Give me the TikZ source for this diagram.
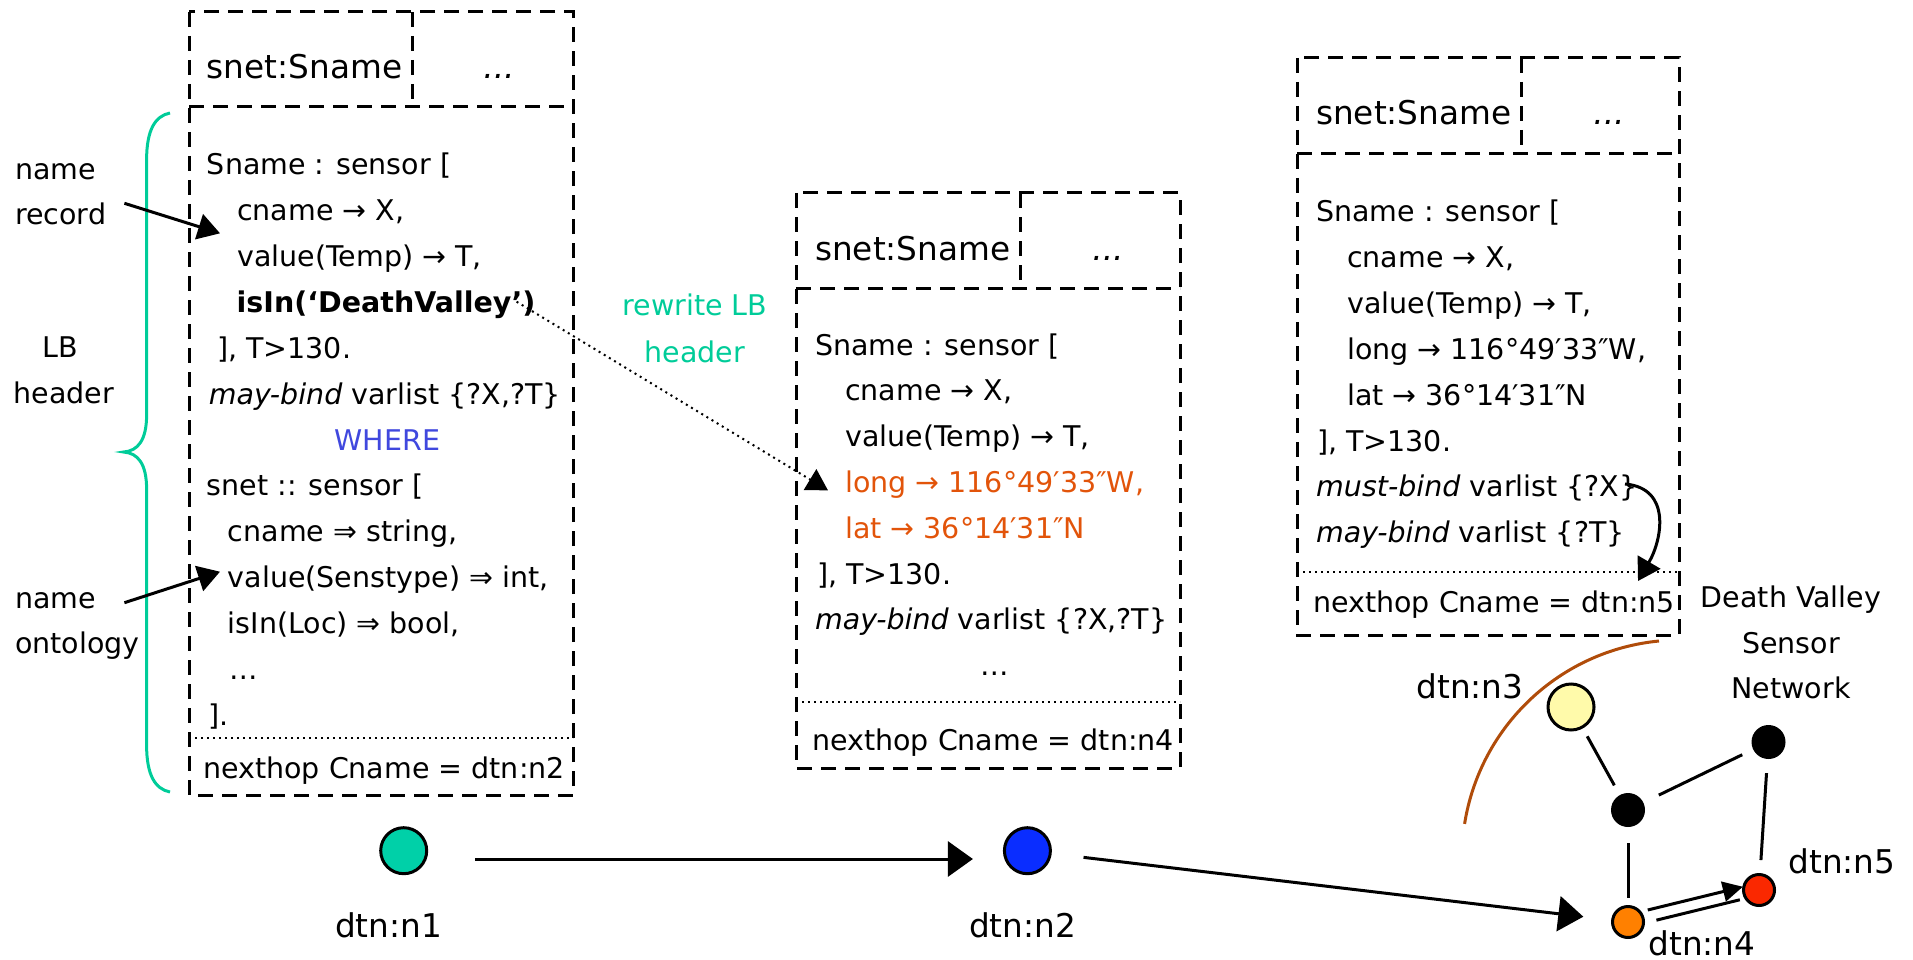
\documentclass[tikz,border=0pt]{standalone}
\usepackage{fontspec}
\setmainfont{DejaVu Sans}
\usetikzlibrary{arrows.meta,calc}

\definecolor{lbgreen}{RGB}{0,204,153}
\definecolor{wherebl}{RGB}{64,72,222}
\definecolor{geotxt}{RGB}{226,84,10}
\definecolor{arcbrown}{RGB}{176,76,10}
\definecolor{nAfill}{RGB}{0,208,168}
\definecolor{nBfill}{RGB}{10,45,255}
\definecolor{nCfill}{RGB}{255,250,170}
\definecolor{nDfill}{RGB}{255,128,0}
\definecolor{nEfill}{RGB}{250,40,0}

\newcommand{\txtsize}{\fontsize{28.5}{45.8}\selectfont}
\newcommand{\lblsize}{\fontsize{32.7}{40}\selectfont}

\begin{document}
\begin{tikzpicture}[x=1pt,y=-1pt,
  box/.style={line width=3pt, dash pattern=on 15pt off 9pt},
  sepline/.style={line width=2pt, dash pattern=on 2pt off 4pt},
  txt/.style={inner sep=0pt, anchor=base west, font=\txtsize},
  ctxt/.style={inner sep=0pt, anchor=base, font=\txtsize},
  lbl/.style={inner sep=0pt, anchor=base, font=\lblsize},
  hdr/.style={inner sep=0pt, anchor=base west, font=\lblsize},
  bigarr/.style={line width=3pt, -{Triangle[length=25pt,width=35pt]}},
  midarr/.style={line width=3pt, -{Triangle[length=22pt,width=26pt]}},
  dotarr/.style={line width=2pt, dash pattern=on 2pt off 4pt, -{Triangle[length=21pt,width=24pt]}},
  smallarr/.style={line width=3pt, -{Triangle[length=20pt,width=20pt]}},
  bignode/.style={circle, draw, line width=3pt, minimum size=46pt, inner sep=0pt},
  smallnode/.style={circle, draw, line width=3pt, minimum size=31pt, inner sep=0pt},
  blacknode/.style={circle, fill=black, minimum size=34pt, inner sep=0pt},
  netedge/.style={line width=3pt}
]
\useasboundingbox (0,0) rectangle (1913,960);

% ---------- record boxes ----------
% box of dtn:n1
\draw[box] (189,12) rectangle (573,795);
\draw[box] (189,107) -- (573,107);
\draw[box] (412.5,12) -- (412.5,107);
\draw[sepline] (189,738) -- (573,738);
% box of dtn:n2
\draw[box] (796,193) rectangle (1180,768);
\draw[box] (796,288) -- (1180,288);
\draw[box] (1020,193) -- (1020,288);
\draw[sepline] (796,702) -- (1180,702);
% box of dtn:n4
\draw[box] (1297,58) rectangle (1679,635);
\draw[box] (1297,154) -- (1679,154);
\draw[box] (1521,58) -- (1521,154);
\draw[sepline] (1297,572) -- (1679,572);

% ---------- first box text ----------
\node[hdr] (h1) at (206.7,79) {snet:Sname};
\node[lbl] (h1d) at (499,79) {\textit{...}};
\node[txt] (a0) at (206.7,175) {Sname : sensor [};
\node[txt] (a1) at (237,220.8) {cname → X,};
\node[txt] (a2) at (237,266.7) {value(Temp) → T,};
\node[txt] (a3) at (236.5,312.5) {\textbf{isIn(‘DeathValley’)}};
\node[txt] (a4) at (217,358.3) {], T>130.};
\node[txt] (a5) at (208.6,404.2) {\textit{may-bind} varlist \{?X,?T\}};
\node[ctxt, text=wherebl] (a6) at (387.5,450) {WHERE};
\node[txt] (a7) at (206.7,495.8) {snet :: sensor [};
\node[txt] (a8) at (227.7,541.7) {cname ⇒ string,};
\node[txt] (a9) at (227.7,587.5) {value(Senstype) ⇒ int,};
\node[txt] (a10) at (227.7,633.3) {isIn(Loc) ⇒ bool,};
\node[txt] (a11) at (229,679.2) {…};
\node[txt] (a12) at (208.6,725) {].};
\node[txt] (a13) at (203,778) {nexthop Cname = dtn:n2};

% ---------- second box text ----------
\node[hdr] (h2) at (815,260) {snet:Sname};
\node[lbl] (h2d) at (1108,260) {\textit{...}};
\node[txt] (b0) at (815,355) {Sname : sensor [};
\node[txt] (b1) at (845,400.8) {cname → X,};
\node[txt] (b2) at (845,446.6) {value(Temp) → T,};
\node[txt, text=geotxt] (b3) at (845,492.4) {long → 116°49′33″W,};
\node[txt, text=geotxt] (b4) at (845,538.2) {lat → 36°14′31″N};
\node[txt] (b5) at (817,584) {], T>130.};
\node[txt] (b6) at (815,629.8) {\textit{may-bind} varlist \{?X,?T\}};
\node[ctxt] (b7) at (995,675.6) {…};
\node[txt] (b8) at (812,750) {nexthop Cname = dtn:n4};

% ---------- third box text ----------
\node[hdr] (h3) at (1316,125) {snet:Sname};
\node[lbl] (h3d) at (1609,125) {\textit{...}};
\node[txt] (c0) at (1316,222) {Sname : sensor [};
\node[txt] (c1) at (1347,267.8) {cname → X,};
\node[txt] (c2) at (1347,313.6) {value(Temp) → T,};
\node[txt] (c3) at (1347,359.4) {long → 116°49′33″W,};
\node[txt] (c4) at (1347,405.2) {lat → 36°14′31″N};
\node[txt] (c5) at (1317,451) {], T>130.};
\node[txt] (c6) at (1316,496.8) {\textit{must-bind} varlist \{?X\}};
\node[txt] (c7) at (1316,542.6) {\textit{may-bind} varlist \{?T\}};
\node[txt] (c8) at (1313,612) {nexthop Cname = dtn:n5};

% ---------- side annotations ----------
\draw[lbgreen, line width=3pt]
  (170,113) .. controls (155,116) and (146.6,130) .. (146.6,160)
  -- (146.6,415) .. controls (146.6,440) and (138,451) .. (123.6,452)
  .. controls (138,453) and (146.6,464) .. (146.6,489)
  -- (146.6,745) .. controls (146.6,775) and (155,789) .. (170,792);

\node[txt] (nr1) at (15,180) {name};
\node[txt] (nr2) at (15,225) {record};
\node[ctxt] (lb1) at (60,357) {LB};
\node[ctxt] (lb2) at (64,403) {header};
\node[txt] (no1) at (15,608) {name};
\node[txt] (no2) at (15,653) {ontology};

\coordinate (recfrom) at (124.4,203.3);
\coordinate (recto) at (220,233.3);
\draw[midarr] (recfrom) -- (recto);
\coordinate (ontfrom) at (124.4,602.7);
\coordinate (ontto) at (220,571.7);
\draw[midarr] (ontfrom) -- (ontto);

\node[ctxt, text=lbgreen] (rw1) at (695,315) {rewrite LB};
\node[ctxt, text=lbgreen] (rw2) at (695,362) {header};

\coordinate (dvfrom) at (516.6,301.7);
\draw[dotarr] (dvfrom) -- ([xshift=-17pt,yshift=2pt]b3.base west);

\coordinate (mbfrom) at (1625,484);
\coordinate (mbto) at (1638,581);
\draw[midarr] (mbfrom) .. controls (1672,488) and (1662,540) .. (mbto);

% ---------- route nodes ----------
\node[bignode, fill=nAfill] (n1) at (403.7,850.7) {};
\node[bignode, fill=nBfill] (n2) at (1027.4,850.7) {};
\node[lbl] (n1l) at (388.6,937) {dtn:n1};
\node[lbl] (n2l) at (1022.5,937) {dtn:n2};

\draw[bigarr] ([xshift=47pt,yshift=-8.3pt]n1.east) -- ([xshift=-30pt,yshift=-8.3pt]n2.west);

% ---------- sensor network ----------
\draw[arcbrown, line width=3pt] (1659,641) arc[start angle=95.5, end angle=171, radius=218pt];

\node[bignode, fill=nCfill] (n3) at (1571,707) {};
\node[blacknode] (hub) at (1628,810) {};
\node[blacknode] (rim) at (1768.5,742) {};
\node[smallnode, fill=nDfill] (n4) at (1628,922) {};
\node[smallnode, fill=nEfill] (n5) at (1759,890) {};

\draw[netedge, shorten <=9pt, shorten >=11pt] (n3) -- (hub);
\draw[netedge, shorten <=17pt, shorten >=12pt] (hub) -- (rim);
\draw[netedge, shorten <=14pt, shorten >=13pt] (rim) -- (n5);
\draw[netedge, shorten <=16pt, shorten >=7pt] (hub) -- (n4);

\draw[smallarr, shorten <=5pt, shorten >=-2pt, transform canvas={shift={(-1.6pt,6.8pt)}}] (n4) -- (n5);
\draw[netedge, shorten <=11pt, shorten >=4pt, transform canvas={shift={(1.2pt,-4.8pt)}}] (n4) -- (n5);

\draw[bigarr, shorten <=32pt, shorten >=28pt] (n2) -- (n4);

\node[lbl] (n3l) at (1470,698) {dtn:n3};
\node[lbl] (n4l) at (1702,955) {dtn:n4};
\node[lbl] (n5l) at (1842,873) {dtn:n5};
\node[ctxt] (dv1) at (1791,607) {Death Valley};
\node[ctxt] (dv2) at (1791,653) {Sensor};
\node[ctxt] (dv3) at (1791,698) {Network};
\end{tikzpicture}
\end{document}
